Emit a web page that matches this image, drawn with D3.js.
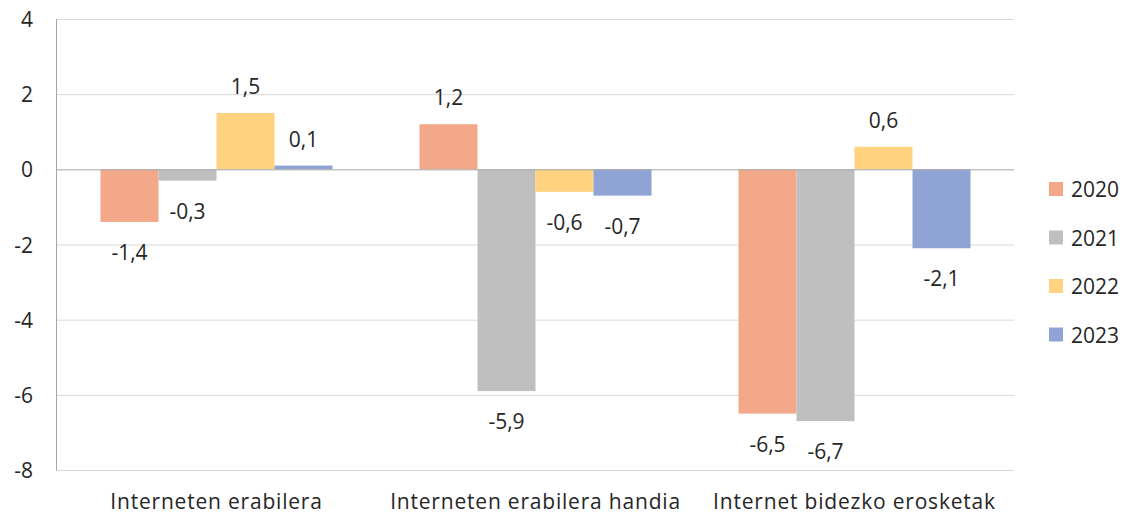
<!DOCTYPE html>
<html>
<head>
<meta charset="utf-8">
<script src="https://cdn.jsdelivr.net/npm/d3@7"></script>
<style>
  html, body { margin: 0; padding: 0; background: #fff; }
  svg { display: block; }
</style>
</head>
<body>
<svg id="chart" width="1126" height="516"></svg>
<script>
const categories = ["Interneten erabilera", "Interneten erabilera handia", "Internet bidezko erosketak"];
const years = ["2020", "2021", "2022", "2023"];
const values2020 = [-1.4, 1.2, -6.5];
const values2021 = [-0.3, -5.9, -6.7];
const values2022 = [1.5, -0.6, 0.6];
const values2023 = [0.1, -0.7, -2.1];
const yTicks = [-8, -6, -4, -2, 0, 2, 4];

const seriesValues = [values2020, values2021, values2022, values2023];
const colors = ["#F2A889", "#BFBFBF", "#FFD280", "#8FA3D4"];

const W = 1126, H = 516;
const m = { top: 19, right: 112, bottom: 46, left: 57 };
const iW = W - m.left - m.right;
const iH = H - m.top - m.bottom;
const FONT = "'Open Sans', sans-serif";
const FS = "21px";

const svg = d3.select("#chart");
const g = svg.append("g").attr("transform", `translate(${m.left},${m.top})`);

const x0 = d3.scaleBand().domain(categories).range([0, iW]).paddingInner(0).paddingOuter(0);
const x1 = d3.scaleBand().domain(years).range([0, x0.bandwidth()]).paddingInner(0).paddingOuter(0.75);
const y = d3.scaleLinear().domain([-8, 4]).range([iH, 0]);
const color = d3.scaleOrdinal().domain(years).range(colors);

// Grid
g.append("g").selectAll("line").data(yTicks.filter(d => d !== 0)).join("line")
  .attr("x1", 0).attr("x2", iW)
  .attr("y1", d => y(d) + 0.5).attr("y2", d => y(d) + 0.5)
  .attr("stroke", "#d9d9d9").attr("stroke-width", 1);

// Y-Axis labels
g.append("g").selectAll("text").data(yTicks).join("text")
  .attr("x", -24).attr("y", d => y(d))
  .attr("text-anchor", "end").attr("dominant-baseline", "central")
  .style("fill", "#262626").style("font-size", FS).style("font-family", FONT)
  .text(d => d);

// Bars
const data = [];
categories.forEach((c, ci) => {
  years.forEach((yr, si) => data.push({ cat: c, year: yr, value: seriesValues[si][ci] }));
});

const fmt = v => d3.format(".1f")(v).replace(".", ",").replace("−", "-");

const bars = g.append("g").selectAll("g").data(data).join("g")
  .attr("transform", d => `translate(${x0(d.cat) + x1(d.year)},0)`);

bars.append("rect")
  .attr("x", 0).attr("width", x1.bandwidth())
  .attr("y", d => y(Math.max(0, d.value)))
  .attr("height", d => Math.abs(y(d.value) - y(0)))
  .attr("fill", d => color(d.year));

bars.append("text")
  .attr("x", x1.bandwidth() / 2)
  .attr("y", d => d.value >= 0 ? y(d.value) - 27 : y(d.value) + 30)
  .attr("text-anchor", "middle").attr("dominant-baseline", "central")
  .style("fill", "#262626").style("font-size", FS).style("font-family", FONT)
  .text(d => fmt(d.value));

// Zero line and left axis
g.append("line").attr("x1", 0).attr("x2", iW).attr("y1", y(0) + 0.5).attr("y2", y(0) + 0.5)
  .attr("stroke", "#a6a6a6").attr("stroke-width", 1);
g.append("line").attr("x1", -0.5).attr("x2", -0.5).attr("y1", 0).attr("y2", iH + 0.5)
  .attr("stroke", "#a6a6a6").attr("stroke-width", 1);

// Category labels
g.append("g").selectAll("text").data(categories).join("text")
  .attr("x", d => x0(d) + x0.bandwidth() / 2).attr("y", iH + 31)
  .attr("text-anchor", "middle").attr("dominant-baseline", "central")
  .style("fill", "#262626").style("font-size", FS).style("font-family", FONT)
  .style("letter-spacing", "0.8px")
  .text(d => d);

// Legend
const legend = svg.append("g").attr("transform", "translate(1049,189)");
years.forEach((yr, i) => {
  const row = legend.append("g").attr("transform", `translate(0,${i * 48.5})`);
  row.append("rect").attr("x", 0).attr("y", -7).attr("width", 14).attr("height", 14).attr("fill", color(yr));
  row.append("text").attr("x", 22).attr("y", 0).attr("dominant-baseline", "central")
    .style("fill", "#262626").style("font-size", FS).style("font-family", FONT)
    .text(yr);
});
</script>
</body>
</html>
